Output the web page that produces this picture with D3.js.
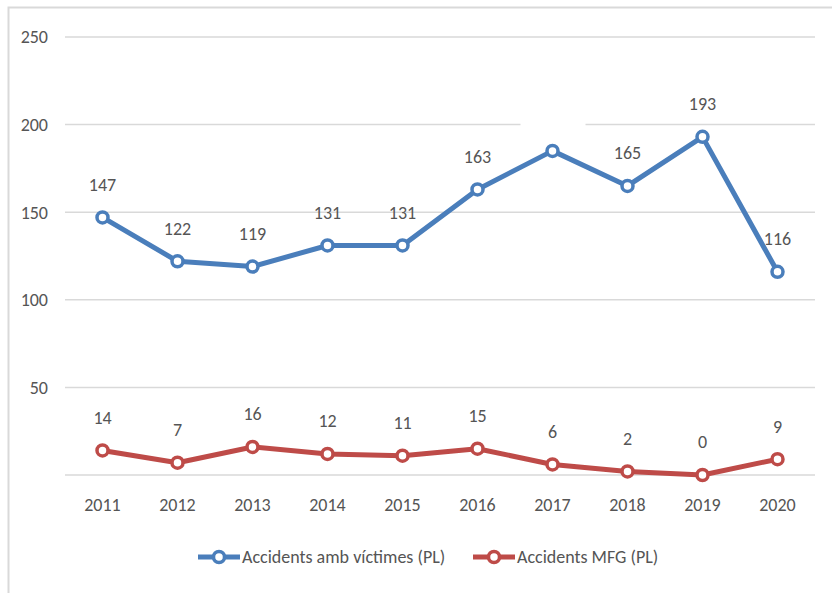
<html>
<head>
<meta charset="UTF-8">
<title>Accidents</title>
<script src="https://d3js.org/d3.v7.min.js"></script>
<style>
  html,body{margin:0;padding:0;background:#fff;}
  text{font-family:"Carlito","Lato","Open Sans",sans-serif;fill:#555;}
</style>
</head>
<body>
<div id="container"></div>
<script>
const years = ["2011","2012","2013","2014","2015","2016","2017","2018","2019","2020"]
const victimes = [147, 122, 119, 131, 131, 163, 185, 165, 193, 116]
const mfg = [14, 7, 16, 12, 11, 15, 6, 2, 0, 9]
const yTicks = [0, 50, 100, 150, 200, 250]
const seriesNames = ["Accidents amb víctimes (PL)", "Accidents MFG (PL)"]
const colors = ["#4a7ebb", "#be4b48"]
// the 2017 label of the blue series shows only its white box
const blankLabels = [[6], []]

const W = 832, H = 593
const plot = { left: 65, right: 815, top: 37, bottom: 475 }

const svg = d3.select("#container").append("svg")
  .attr("width", W).attr("height", H)

// outer frame (only top and left edge inside the view)
svg.append("rect")
  .attr("x", 8.5).attr("y", 7.5).attr("width", 900).attr("height", 700)
  .attr("fill", "none").attr("stroke", "#d9d9d9").attr("stroke-width", 2)

const x = d3.scaleBand().domain(years).range([plot.left, plot.right])
const y = d3.scaleLinear().domain([0, 250]).range([plot.bottom, plot.top])

// gridlines
svg.append("g").selectAll("line").data(yTicks).enter().append("line")
  .attr("x1", plot.left).attr("x2", plot.right)
  .attr("y1", d => y(d)).attr("y2", d => y(d))
  .attr("stroke", "#d9d9d9").attr("stroke-width", 1.5)

// y labels (0 not shown)
svg.append("g").selectAll("text").data(yTicks.filter(d => d > 0)).enter().append("text")
  .attr("x", 48).attr("y", d => y(d)).attr("dy", "0.35em")
  .attr("text-anchor", "end").attr("font-size", 18)
  .text(d => d)

// x labels
svg.append("g").selectAll("text").data(years).enter().append("text")
  .attr("x", d => x(d) + x.bandwidth() / 2).attr("y", 505).attr("dy", "0.35em")
  .attr("text-anchor", "middle").attr("font-size", 18)
  .text(d => d)

const line = d3.line()
  .x((d, i) => x(years[i]) + x.bandwidth() / 2)
  .y(d => y(d))

;[victimes, mfg].forEach((data, s) => {
  const g = svg.append("g")
  g.append("path").datum(data)
    .attr("d", line).attr("fill", "none")
    .attr("stroke", colors[s]).attr("stroke-width", 5)
    .attr("stroke-linejoin", "round")
  g.selectAll("circle").data(data).enter().append("circle")
    .attr("cx", (d, i) => x(years[i]) + x.bandwidth() / 2)
    .attr("cy", d => y(d)).attr("r", 5.5)
    .attr("fill", "#fff").attr("stroke", colors[s]).attr("stroke-width", 3.5)
  // data labels
  const lab = g.selectAll("g.lab").data(data).enter().append("g")
    .attr("transform", (d, i) => "translate(" + (x(years[i]) + x.bandwidth() / 2) + "," + (y(d) - 33) + ")")
  lab.filter((d, i) => blankLabels[s].includes(i)).append("rect")
    .attr("x", -32).attr("y", -11).attr("width", 65).attr("height", 22).attr("fill", "#fff")
  lab.filter((d, i) => !blankLabels[s].includes(i)).append("text")
    .attr("text-anchor", "middle").attr("dy", "0.35em").attr("font-size", 18)
    .text(d => d)
})

// legend
const legX = [198, 473]
seriesNames.forEach((name, s) => {
  const g = svg.append("g").attr("transform", "translate(" + legX[s] + ",557)")
  g.append("line").attr("x1", 0).attr("x2", 42).attr("y1", 0).attr("y2", 0)
    .attr("stroke", colors[s]).attr("stroke-width", 5)
  g.append("circle").attr("cx", 21).attr("cy", 0).attr("r", 5.5)
    .attr("fill", "#fff").attr("stroke", colors[s]).attr("stroke-width", 3.5)
  g.append("text").attr("x", 44).attr("dy", "0.35em").attr("font-size", 18).text(name)
})
</script>
</body>
</html>
